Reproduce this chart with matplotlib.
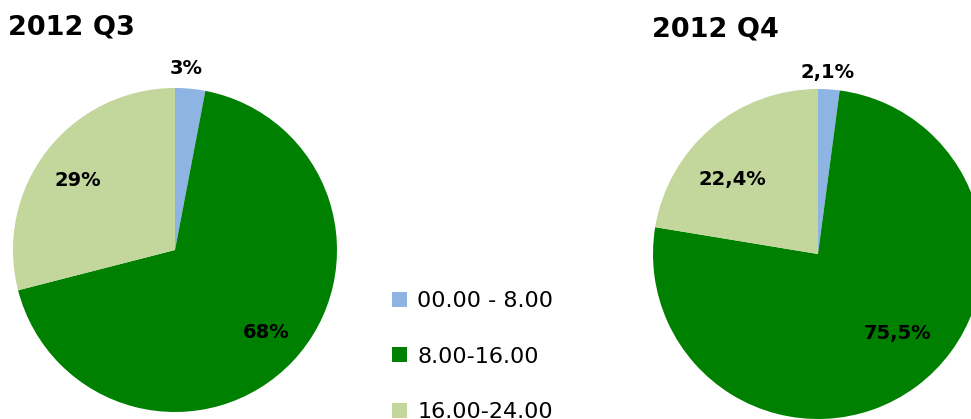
import matplotlib
matplotlib.use("Agg")
import matplotlib.pyplot as plt
from matplotlib.patches import Patch

categories = ["00.00 - 8.00", "8.00-16.00", "16.00-24.00"]
q3_values = [3, 68, 29]
q4_values = [2.1, 75.5, 22.4]
q3_labels = ["3%", "68%", "29%"]
q4_labels = ["2,1%", "75,5%", "22,4%"]
titles = ["2012 Q3", "2012 Q4"]
colors = ["#8EB4E3", "#008000", "#C3D69B"]

W, H = 971, 419
fig = plt.figure(figsize=(W / 100, H / 100), dpi=100)
FONT = "DejaVu Sans"

def pie_axes(cx, cy, r):
    ax = fig.add_axes([(cx - r) / W, (H - cy - r) / H, 2 * r / W, 2 * r / H])
    return ax

ax1 = pie_axes(175, 250, 162)
ax2 = pie_axes(818, 254, 165)

for ax, vals in ((ax1, q3_values), (ax2, q4_values)):
    wedges, _ = ax.pie(vals, colors=colors, startangle=90, counterclock=False,
                       radius=1, wedgeprops=dict(linewidth=0))
    for w in wedges:
        w.set_clip_on(False)
    ax.set_xlim(-1, 1)
    ax.set_ylim(-1, 1)
    ax.set_aspect("equal")
    ax.axis("off")

q3_pos = [(0.068, 1.12), (0.56, -0.51), (-0.60, 0.43)]
q4_pos = [(0.06, 1.10), (0.48, -0.48), (-0.52, 0.45)]
for ax, labs, pos in ((ax1, q3_labels, q3_pos), (ax2, q4_labels, q4_pos)):
    for lab, (x, y) in zip(labs, pos):
        ax.text(x, y, lab, ha="center", va="center", fontsize=14,
                fontweight="bold", family=FONT, color="black", clip_on=False)

fig.text(8 / W, 1 - 28 / H, titles[0], ha="left", va="center", fontsize=19.5,
         fontweight="bold", family=FONT)
fig.text(652 / W, 1 - 30 / H, titles[1], ha="left", va="center", fontsize=19.5,
         fontweight="bold", family=FONT)

handles = [Patch(facecolor=c, edgecolor="none") for c in colors]
leg = fig.legend(handles, categories, loc="upper left",
                 bbox_to_anchor=(392 / W, 1 - 291 / H), frameon=False,
                 prop={"family": FONT, "size": 16}, handlelength=0.68,
                 handleheight=0.68, handletextpad=0.45, labelspacing=1.6,
                 borderaxespad=0, borderpad=0)

fig.savefig("out.png", dpi=100)
